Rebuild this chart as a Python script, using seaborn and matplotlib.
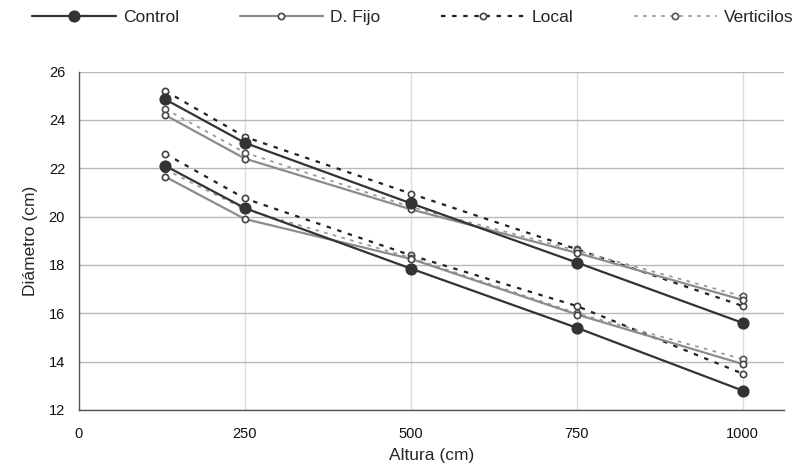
import pandas as pd
import matplotlib
matplotlib.use("Agg")
import matplotlib.pyplot as plt
import seaborn as sns

sns.set_style("white")
plt.rcParams['font.family'] = ['Liberation Sans', 'DejaVu Sans']

# Alturas de medicion (cm)
altura = [130, 250, 500, 750, 1000]

# Diametros (cm) por tratamiento, grupo superior e inferior
control_sup = [24.85, 23.05, 20.55, 18.1, 15.6]
control_inf = [22.1, 20.35, 17.85, 15.4, 12.8]
dfijo_sup = [24.2, 22.4, 20.3, 18.5, 16.55]
dfijo_inf = [21.65, 19.9, 18.25, 15.95, 13.9]
local_sup = [25.2, 23.3, 20.95, 18.65, 16.3]
local_inf = [22.6, 20.75, 18.4, 16.3, 13.5]
vert_sup = [24.45, 22.65, 20.4, 18.6, 16.7]
vert_inf = [21.95, 20.3, 18.3, 16.0, 14.1]

tratamientos = ['Control', 'D. Fijo', 'Local', 'Verticilos']
series = {
    'Control': (control_sup, control_inf),
    'D. Fijo': (dfijo_sup, dfijo_inf),
    'Local': (local_sup, local_inf),
    'Verticilos': (vert_sup, vert_inf),
}

rows = []
for trat in tratamientos:
    for grupo, valores in zip(['sup', 'inf'], series[trat]):
        for a, d in zip(altura, valores):
            rows.append({'Altura': a, 'Diametro': d, 'Tratamiento': trat, 'Grupo': grupo})
df = pd.DataFrame(rows)

estilos = {
    'Control': dict(color='#333333', linestyle='-', lw=1.6, marker='o', markersize=8,
                    markerfacecolor='#333333', markeredgecolor='#333333', zorder=5),
    'D. Fijo': dict(color='#8c8c8c', linestyle='-', lw=1.6, marker='o', markersize=4.5,
                    markerfacecolor='white', markeredgecolor='#444444', markeredgewidth=1.2, zorder=4),
    'Local': dict(color='#222222', linestyle=(0, (2, 3)), lw=1.6, marker='o', markersize=4.5,
                  markerfacecolor='white', markeredgecolor='#444444', markeredgewidth=1.2, zorder=3),
    'Verticilos': dict(color='#9a9a9a', linestyle=(0, (2, 3)), lw=1.3, marker='o', markersize=4.5,
                       markerfacecolor='white', markeredgecolor='#555555', markeredgewidth=1.2, zorder=3),
}

fig = plt.figure(figsize=(8.02, 4.68), dpi=100)
ax = fig.add_axes([0.0985, 0.124, 0.879, 0.723])

for trat in tratamientos:
    sub = df[df['Tratamiento'] == trat]
    sns.lineplot(data=sub, x='Altura', y='Diametro', units='Grupo', estimator=None,
                 sort=True, label=trat, legend=False, ax=ax, **estilos[trat])

ax.set_xlim(0, 1062)
ax.set_ylim(12, 26)
ax.set_xticks([0, 250, 500, 750, 1000])
ax.set_yticks(range(12, 27, 2))
ax.grid(axis='x', color='#dcdcdc', lw=1)
ax.grid(axis='y', color='#b8b8b8', lw=1)
ax.set_axisbelow(True)
for s in ['top', 'right']:
    ax.spines[s].set_visible(False)
for s in ['left', 'bottom']:
    ax.spines[s].set_color('#555555')
    ax.spines[s].set_linewidth(1)
ax.tick_params(axis='both', direction='out', length=4, width=1, color='#555555',
               labelsize=10.5, labelcolor='#111111', pad=8)
ax.tick_params(axis='y', pad=6)
ax.set_xlabel('Altura (cm)', fontsize=12.5, labelpad=5)
ax.set_ylabel('Diámetro (cm)', fontsize=12.5, labelpad=8)

handles, labels = ax.get_legend_handles_labels()
unicos = dict(zip(labels, handles))
fig.legend([unicos[t] for t in tratamientos], tratamientos, loc='center',
           bbox_to_anchor=(0.515, 0.962), ncol=4, frameon=False, fontsize=12.5,
           handlelength=4.8, handletextpad=0.4, columnspacing=3.5)

fig.savefig('out.png', dpi=100)
